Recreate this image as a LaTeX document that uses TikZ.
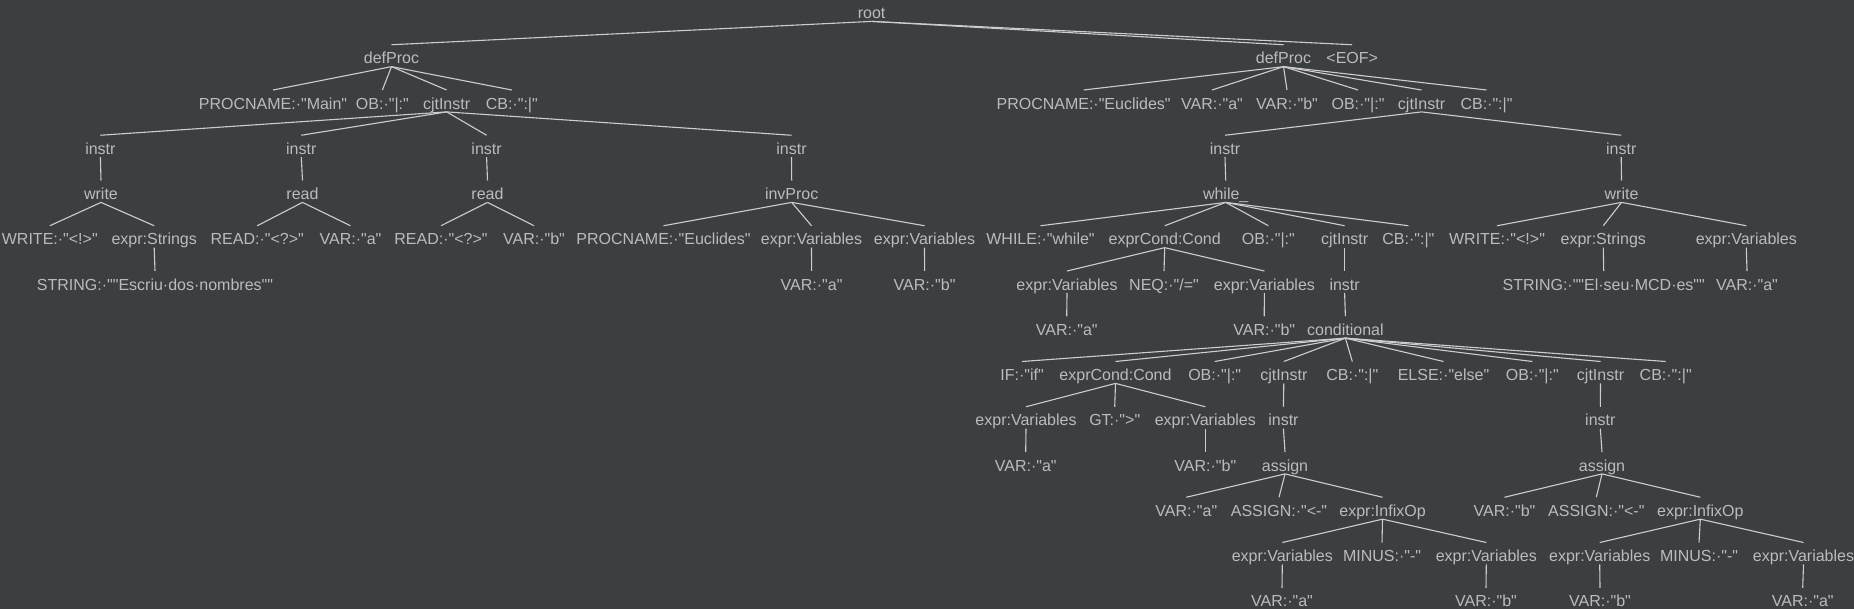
\documentclass[tikz,border=0pt]{standalone}
\usepackage{fontspec}
\setmainfont{Liberation Sans}[Ligatures=TeXOff]
\definecolor{bg}{HTML}{3C3F41}
\definecolor{fg}{HTML}{BBBBBB}
\definecolor{ln}{HTML}{CDCDCD}
\tikzset{
  t/.style={anchor=base, inner sep=0pt, text height=19pt, text depth=2.5pt,
    font=\fontsize{16}{16}\selectfont, text=fg},
  e/.style={draw=ln, line width=1.1pt}
}
\begin{document}
\begin{tikzpicture}[x=1pt,y=-1pt]
\fill[bg] (0,0) rectangle (1854,609);
\useasboundingbox (0,0) rectangle (1854,609);
% row 0
\node[t] (root) at (871.6,18.7) {root};
% row 1
\node[t] (dpL) at (391.5,63.95) {defProc};
\node[t] (dpR) at (1283.5,63.95) {defProc};
\node[t] (eof) at (1352.2,63.95) {<EOF>};
% row 2
\node[t] (pnM) at (273,109.2) {PROCNAME:·"Main"};
\node[t] (obL) at (382.4,109.2) {OB:·"|:"};
\node[t] (cjL) at (446.6,109.2) {cjtInstr};
\node[t] (cbL) at (511.8,109.2) {CB:·":|"};
\node[t] (pnE) at (1083.6,109.2) {PROCNAME:·"Euclides"};
\node[t] (vA2) at (1212,109.2) {VAR:·"a"};
\node[t] (vB2) at (1287,109.2) {VAR:·"b"};
\node[t] (obR) at (1358,109.2) {OB:·"|:"};
\node[t] (cjR) at (1421.5,109.2) {cjtInstr};
\node[t] (cbR) at (1486.5,109.2) {CB:·":|"};
% row 3
\node[t] (i1) at (100.4,154.45) {instr};
\node[t] (i2) at (301.3,154.45) {instr};
\node[t] (i3) at (486.6,154.45) {instr};
\node[t] (i4) at (791.5,154.45) {instr};
\node[t] (i5) at (1225,154.45) {instr};
\node[t] (i6) at (1621.2,154.45) {instr};
% row 4
\node[t] (w1) at (101,199.7) {write};
\node[t] (r1) at (302.5,199.7) {read};
\node[t] (r2) at (487.5,199.7) {read};
\node[t] (ip) at (791.7,199.7) {invProc};
\node[t] (wh) at (1225.7,199.7) {while\_};
\node[t] (w2) at (1621.5,199.7) {write};
% row 5
\node[t] (wr1) at (49.8,244.95) {WRITE:·"<!>"};
\node[t] (es1) at (154.2,244.95) {expr:Strings};
\node[t] (rd1) at (257.2,244.95) {READ:·"<?>"};
\node[t] (va5) at (350.5,244.95) {VAR:·"a"};
\node[t] (rd2) at (441,244.95) {READ:·"<?>"};
\node[t] (vb5) at (534,244.95) {VAR:·"b"};
\node[t] (pnE2) at (663.5,244.95) {PROCNAME:·"Euclides"};
\node[t] (ev1) at (811.5,244.95) {expr:Variables};
\node[t] (ev2) at (924.5,244.95) {expr:Variables};
\node[t] (whl) at (1040.5,244.95) {WHILE:·"while"};
\node[t] (ec1) at (1164.7,244.95) {exprCond:Cond};
\node[t] (ob5) at (1268.4,244.95) {OB:·"|:"};
\node[t] (cj5) at (1344.6,244.95) {cjtInstr};
\node[t] (cb5) at (1408.4,244.95) {CB:·":|"};
\node[t] (wr2) at (1497,244.95) {WRITE:·"<!>"};
\node[t] (es2) at (1603.3,244.95) {expr:Strings};
\node[t] (ev3) at (1746.3,244.95) {expr:Variables};
% row 6
\node[t] (st1) at (155,290.2) {STRING:·""Escriu·dos·nombres""};
\node[t] (va6a) at (811.6,290.2) {VAR:·"a"};
\node[t] (vb6a) at (924.6,290.2) {VAR:·"b"};
\node[t] (ev4) at (1067,290.2) {expr:Variables};
\node[t] (neq) at (1164,290.2) {NEQ:·"/="};
\node[t] (ev5) at (1264.4,290.2) {expr:Variables};
\node[t] (in6) at (1344.6,290.2) {instr};
\node[t] (st2) at (1603.7,290.2) {STRING:·""El·seu·MCD·es""};
\node[t] (va6b) at (1747,290.2) {VAR:·"a"};
% row 7
\node[t] (va7) at (1066.7,335.45) {VAR:·"a"};
\node[t] (vb7) at (1264.2,335.45) {VAR:·"b"};
\node[t] (cond) at (1345.4,335.45) {conditional};
% row 8
\node[t] (ifn) at (1022,380.7) {IF:·"if"};
\node[t] (ec2) at (1115.5,380.7) {exprCond:Cond};
\node[t] (ob8a) at (1214.7,380.7) {OB:·"|:"};
\node[t] (cj8a) at (1283.8,380.7) {cjtInstr};
\node[t] (cb8a) at (1352.3,380.7) {CB:·":|"};
\node[t] (elsen) at (1443.5,380.7) {ELSE:·"else"};
\node[t] (ob8b) at (1532.3,380.7) {OB:·"|:"};
\node[t] (cj8b) at (1600.5,380.7) {cjtInstr};
\node[t] (cb8b) at (1665.7,380.7) {CB:·":|"};
% row 9
\node[t] (ev6) at (1026,425.95) {expr:Variables};
\node[t] (gt) at (1114.7,425.95) {GT:·">"};
\node[t] (ev7) at (1205.3,425.95) {expr:Variables};
\node[t] (in9a) at (1283.4,425.95) {instr};
\node[t] (in9b) at (1600.3,425.95) {instr};
% row 10
\node[t] (va10) at (1025.7,471.2) {VAR:·"a"};
\node[t] (vb10) at (1205.3,471.2) {VAR:·"b"};
\node[t] (as1) at (1285,471.2) {assign};
\node[t] (as2) at (1602,471.2) {assign};
% row 11
\node[t] (va11) at (1186.3,516.45) {VAR:·"a"};
\node[t] (asg1) at (1279,516.45) {ASSIGN:·"<-"};
\node[t] (ix1) at (1382.5,516.45) {expr:InfixOp};
\node[t] (vb11) at (1504.5,516.45) {VAR:·"b"};
\node[t] (asg2) at (1596.3,516.45) {ASSIGN:·"<-"};
\node[t] (ix2) at (1700.3,516.45) {expr:InfixOp};
% row 12
\node[t] (ev8) at (1282.3,561.7) {expr:Variables};
\node[t] (mi1) at (1382,561.7) {MINUS:·"-"};
\node[t] (ev9) at (1486.3,561.7) {expr:Variables};
\node[t] (ev10) at (1599.7,561.7) {expr:Variables};
\node[t] (mi2) at (1699,561.7) {MINUS:·"-"};
\node[t] (ev11) at (1803.5,561.7) {expr:Variables};
% row 13
\node[t] (va13) at (1282,606.95) {VAR:·"a"};
\node[t] (vb13a) at (1486,606.95) {VAR:·"b"};
\node[t] (vb13b) at (1600,606.95) {VAR:·"b"};
\node[t] (va13b) at (1802.7,606.95) {VAR:·"a"};
% edges
\foreach \p/\c in {root/dpL, root/dpR, root/eof,
  dpL/pnM, dpL/obL, dpL/cjL, dpL/cbL,
  cjL/i1, cjL/i2, cjL/i3, cjL/i4,
  i1/w1, i2/r1, i3/r2, i4/ip,
  w1/wr1, w1/es1, es1/st1,
  r1/rd1, r1/va5, r2/rd2, r2/vb5,
  ip/pnE2, ip/ev1, ip/ev2, ev1/va6a, ev2/vb6a,
  dpR/pnE, dpR/vA2, dpR/vB2, dpR/obR, dpR/cjR, dpR/cbR,
  cjR/i5, cjR/i6, i5/wh, i6/w2,
  wh/whl, wh/ec1, wh/ob5, wh/cj5, wh/cb5,
  ec1/ev4, ec1/neq, ec1/ev5, ev4/va7, ev5/vb7,
  cj5/in6, in6/cond,
  cond/ifn, cond/ec2, cond/ob8a, cond/cj8a, cond/cb8a, cond/elsen, cond/ob8b, cond/cj8b, cond/cb8b,
  ec2/ev6, ec2/gt, ec2/ev7, ev6/va10, ev7/vb10,
  cj8a/in9a, in9a/as1, as1/va11, as1/asg1, as1/ix1,
  ix1/ev8, ix1/mi1, ix1/ev9, ev8/va13, ev9/vb13a,
  cj8b/in9b, in9b/as2, as2/vb11, as2/asg2, as2/ix2,
  ix2/ev10, ix2/mi2, ix2/ev11, ev10/vb13b, ev11/va13b,
  w2/wr2, w2/es2, w2/ev3, es2/st2, ev3/va6b}
  \draw[e] (\p.south) -- (\c.north);
\end{tikzpicture}
\end{document}
